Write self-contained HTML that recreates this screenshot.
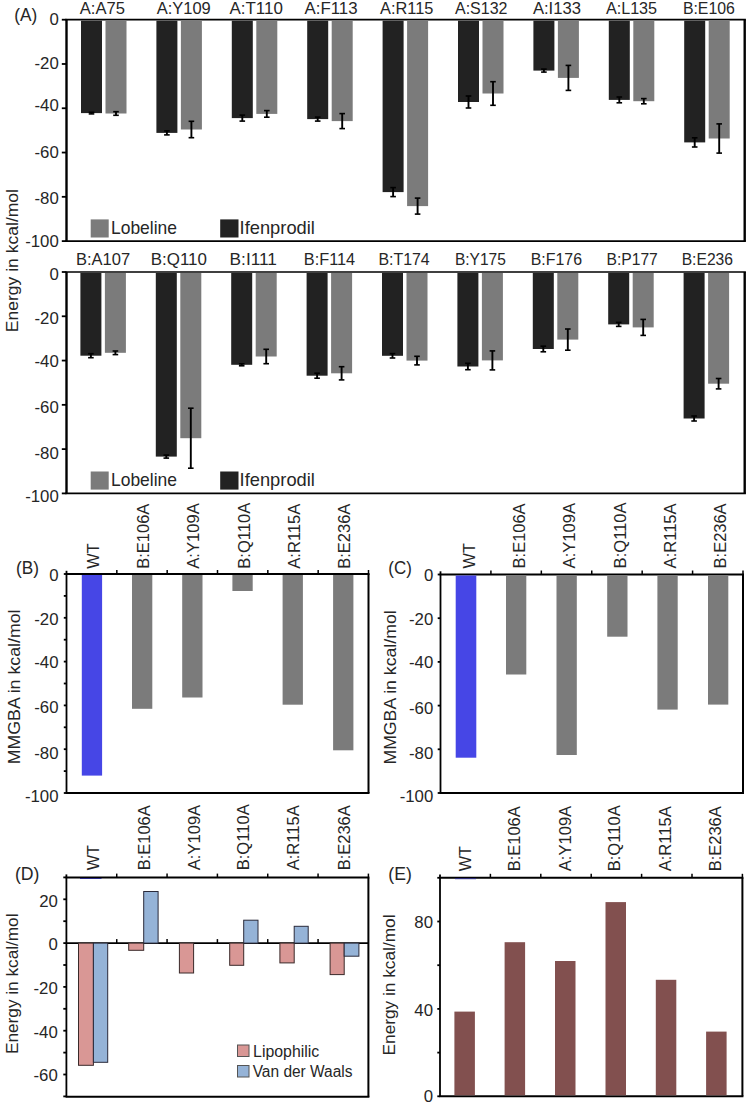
<!DOCTYPE html>
<html><head><meta charset="utf-8"><style>
html,body{margin:0;padding:0;background:#fff;}
body{width:749px;height:1104px;overflow:hidden;}
svg{display:block;}
text{font-family:"Liberation Sans",sans-serif;fill:#262626;}
</style></head><body>
<svg width="749" height="1104" viewBox="0 0 749 1104">
<rect x="0" y="0" width="749" height="1104" fill="#fff"/>
<line x1="65.30" y1="19.70" x2="745.90" y2="19.70" stroke="#000" stroke-width="1.7"/>
<line x1="65.30" y1="241.10" x2="745.90" y2="241.10" stroke="#000" stroke-width="1.7"/>
<line x1="66.50" y1="19.70" x2="66.50" y2="241.10" stroke="#000" stroke-width="2.4"/>
<line x1="744.70" y1="19.70" x2="744.70" y2="241.10" stroke="#000" stroke-width="2.4"/>
<line x1="61.80" y1="19.70" x2="66.50" y2="19.70" stroke="#000" stroke-width="1.8"/>
<text x="58.80" y="25.00" font-size="16.8" text-anchor="end">0</text>
<line x1="61.80" y1="63.98" x2="66.50" y2="63.98" stroke="#000" stroke-width="1.8"/>
<text x="58.80" y="69.00" font-size="16.8" text-anchor="end">-20</text>
<line x1="61.80" y1="108.26" x2="66.50" y2="108.26" stroke="#000" stroke-width="1.8"/>
<text x="58.80" y="111.20" font-size="16.8" text-anchor="end">-40</text>
<line x1="61.80" y1="152.54" x2="66.50" y2="152.54" stroke="#000" stroke-width="1.8"/>
<text x="58.80" y="157.90" font-size="16.8" text-anchor="end">-60</text>
<line x1="61.80" y1="196.82" x2="66.50" y2="196.82" stroke="#000" stroke-width="1.8"/>
<text x="58.80" y="203.90" font-size="16.8" text-anchor="end">-80</text>
<line x1="61.80" y1="241.10" x2="66.50" y2="241.10" stroke="#000" stroke-width="1.8"/>
<text x="58.80" y="247.10" font-size="16.8" text-anchor="end">-100</text>
<text x="79.80" y="13.60" font-size="16.5" text-anchor="start" textLength="45.20" lengthAdjust="spacingAndGlyphs">A:A75</text>
<text x="156.70" y="13.60" font-size="16.5" text-anchor="start" textLength="54.10" lengthAdjust="spacingAndGlyphs">A:Y109</text>
<text x="229.50" y="13.60" font-size="16.5" text-anchor="start" textLength="53.40" lengthAdjust="spacingAndGlyphs">A:T110</text>
<text x="304.60" y="13.60" font-size="16.5" text-anchor="start" textLength="53.00" lengthAdjust="spacingAndGlyphs">A:F113</text>
<text x="380.00" y="13.60" font-size="16.5" text-anchor="start" textLength="53.40" lengthAdjust="spacingAndGlyphs">A:R115</text>
<text x="455.00" y="13.60" font-size="16.5" text-anchor="start" textLength="52.50" lengthAdjust="spacingAndGlyphs">A:S132</text>
<text x="532.90" y="13.60" font-size="16.5" text-anchor="start" textLength="48.10" lengthAdjust="spacingAndGlyphs">A:I133</text>
<text x="605.90" y="13.60" font-size="16.5" text-anchor="start" textLength="51.20" lengthAdjust="spacingAndGlyphs">A:L135</text>
<text x="682.90" y="13.60" font-size="16.5" text-anchor="start" textLength="52.00" lengthAdjust="spacingAndGlyphs">B:E106</text>
<rect x="81.00" y="20.70" width="21.00" height="92.40" fill="#222222"/>
<rect x="105.50" y="20.70" width="21.00" height="92.80" fill="#7b7b7b"/>
<line x1="91.50" y1="112.30" x2="91.50" y2="113.90" stroke="#000" stroke-width="1.9"/>
<line x1="88.70" y1="112.30" x2="94.30" y2="112.30" stroke="#000" stroke-width="1.6"/>
<line x1="88.70" y1="113.90" x2="94.30" y2="113.90" stroke="#000" stroke-width="1.6"/>
<line x1="116.00" y1="111.70" x2="116.00" y2="115.30" stroke="#000" stroke-width="1.9"/>
<line x1="113.20" y1="111.70" x2="118.80" y2="111.70" stroke="#000" stroke-width="1.6"/>
<line x1="113.20" y1="115.30" x2="118.80" y2="115.30" stroke="#000" stroke-width="1.6"/>
<rect x="156.40" y="20.70" width="21.00" height="112.20" fill="#222222"/>
<rect x="180.90" y="20.70" width="21.00" height="108.80" fill="#7b7b7b"/>
<line x1="166.90" y1="130.90" x2="166.90" y2="134.90" stroke="#000" stroke-width="1.9"/>
<line x1="164.10" y1="130.90" x2="169.70" y2="130.90" stroke="#000" stroke-width="1.6"/>
<line x1="164.10" y1="134.90" x2="169.70" y2="134.90" stroke="#000" stroke-width="1.6"/>
<line x1="191.40" y1="121.30" x2="191.40" y2="137.70" stroke="#000" stroke-width="1.9"/>
<line x1="188.60" y1="121.30" x2="194.20" y2="121.30" stroke="#000" stroke-width="1.6"/>
<line x1="188.60" y1="137.70" x2="194.20" y2="137.70" stroke="#000" stroke-width="1.6"/>
<rect x="231.80" y="20.70" width="21.00" height="97.40" fill="#222222"/>
<rect x="256.30" y="20.70" width="21.00" height="93.20" fill="#7b7b7b"/>
<line x1="242.30" y1="115.10" x2="242.30" y2="121.10" stroke="#000" stroke-width="1.9"/>
<line x1="239.50" y1="115.10" x2="245.10" y2="115.10" stroke="#000" stroke-width="1.6"/>
<line x1="239.50" y1="121.10" x2="245.10" y2="121.10" stroke="#000" stroke-width="1.6"/>
<line x1="266.80" y1="110.60" x2="266.80" y2="117.20" stroke="#000" stroke-width="1.9"/>
<line x1="264.00" y1="110.60" x2="269.60" y2="110.60" stroke="#000" stroke-width="1.6"/>
<line x1="264.00" y1="117.20" x2="269.60" y2="117.20" stroke="#000" stroke-width="1.6"/>
<rect x="307.20" y="20.70" width="21.00" height="98.40" fill="#222222"/>
<rect x="331.70" y="20.70" width="21.00" height="100.40" fill="#7b7b7b"/>
<line x1="317.70" y1="117.10" x2="317.70" y2="121.10" stroke="#000" stroke-width="1.9"/>
<line x1="314.90" y1="117.10" x2="320.50" y2="117.10" stroke="#000" stroke-width="1.6"/>
<line x1="314.90" y1="121.10" x2="320.50" y2="121.10" stroke="#000" stroke-width="1.6"/>
<line x1="342.20" y1="113.60" x2="342.20" y2="128.60" stroke="#000" stroke-width="1.9"/>
<line x1="339.40" y1="113.60" x2="345.00" y2="113.60" stroke="#000" stroke-width="1.6"/>
<line x1="339.40" y1="128.60" x2="345.00" y2="128.60" stroke="#000" stroke-width="1.6"/>
<rect x="382.60" y="20.70" width="21.00" height="171.40" fill="#222222"/>
<rect x="407.10" y="20.70" width="21.00" height="185.40" fill="#7b7b7b"/>
<line x1="393.10" y1="187.60" x2="393.10" y2="196.60" stroke="#000" stroke-width="1.9"/>
<line x1="390.30" y1="187.60" x2="395.90" y2="187.60" stroke="#000" stroke-width="1.6"/>
<line x1="390.30" y1="196.60" x2="395.90" y2="196.60" stroke="#000" stroke-width="1.6"/>
<line x1="417.60" y1="198.10" x2="417.60" y2="214.10" stroke="#000" stroke-width="1.9"/>
<line x1="414.80" y1="198.10" x2="420.40" y2="198.10" stroke="#000" stroke-width="1.6"/>
<line x1="414.80" y1="214.10" x2="420.40" y2="214.10" stroke="#000" stroke-width="1.6"/>
<rect x="458.00" y="20.70" width="21.00" height="81.30" fill="#222222"/>
<rect x="482.50" y="20.70" width="21.00" height="72.80" fill="#7b7b7b"/>
<line x1="468.50" y1="96.00" x2="468.50" y2="108.00" stroke="#000" stroke-width="1.9"/>
<line x1="465.70" y1="96.00" x2="471.30" y2="96.00" stroke="#000" stroke-width="1.6"/>
<line x1="465.70" y1="108.00" x2="471.30" y2="108.00" stroke="#000" stroke-width="1.6"/>
<line x1="493.00" y1="81.70" x2="493.00" y2="105.30" stroke="#000" stroke-width="1.9"/>
<line x1="490.20" y1="81.70" x2="495.80" y2="81.70" stroke="#000" stroke-width="1.6"/>
<line x1="490.20" y1="105.30" x2="495.80" y2="105.30" stroke="#000" stroke-width="1.6"/>
<rect x="533.40" y="20.70" width="21.00" height="49.90" fill="#222222"/>
<rect x="557.90" y="20.70" width="21.00" height="57.20" fill="#7b7b7b"/>
<line x1="543.90" y1="69.10" x2="543.90" y2="72.10" stroke="#000" stroke-width="1.9"/>
<line x1="541.10" y1="69.10" x2="546.70" y2="69.10" stroke="#000" stroke-width="1.6"/>
<line x1="541.10" y1="72.10" x2="546.70" y2="72.10" stroke="#000" stroke-width="1.6"/>
<line x1="568.40" y1="65.40" x2="568.40" y2="90.40" stroke="#000" stroke-width="1.9"/>
<line x1="565.60" y1="65.40" x2="571.20" y2="65.40" stroke="#000" stroke-width="1.6"/>
<line x1="565.60" y1="90.40" x2="571.20" y2="90.40" stroke="#000" stroke-width="1.6"/>
<rect x="608.80" y="20.70" width="21.00" height="79.20" fill="#222222"/>
<rect x="633.30" y="20.70" width="21.00" height="80.50" fill="#7b7b7b"/>
<line x1="619.30" y1="97.00" x2="619.30" y2="102.80" stroke="#000" stroke-width="1.9"/>
<line x1="616.50" y1="97.00" x2="622.10" y2="97.00" stroke="#000" stroke-width="1.6"/>
<line x1="616.50" y1="102.80" x2="622.10" y2="102.80" stroke="#000" stroke-width="1.6"/>
<line x1="643.80" y1="98.60" x2="643.80" y2="103.80" stroke="#000" stroke-width="1.9"/>
<line x1="641.00" y1="98.60" x2="646.60" y2="98.60" stroke="#000" stroke-width="1.6"/>
<line x1="641.00" y1="103.80" x2="646.60" y2="103.80" stroke="#000" stroke-width="1.6"/>
<rect x="684.20" y="20.70" width="21.00" height="121.70" fill="#222222"/>
<rect x="708.70" y="20.70" width="21.00" height="117.80" fill="#7b7b7b"/>
<line x1="694.70" y1="137.80" x2="694.70" y2="147.00" stroke="#000" stroke-width="1.9"/>
<line x1="691.90" y1="137.80" x2="697.50" y2="137.80" stroke="#000" stroke-width="1.6"/>
<line x1="691.90" y1="147.00" x2="697.50" y2="147.00" stroke="#000" stroke-width="1.6"/>
<line x1="719.20" y1="123.90" x2="719.20" y2="153.10" stroke="#000" stroke-width="1.9"/>
<line x1="716.40" y1="123.90" x2="722.00" y2="123.90" stroke="#000" stroke-width="1.6"/>
<line x1="716.40" y1="153.10" x2="722.00" y2="153.10" stroke="#000" stroke-width="1.6"/>
<rect x="90.70" y="219.40" width="18.00" height="18.10" fill="#7b7b7b"/>
<text x="111.00" y="233.90" font-size="17.8" text-anchor="start" textLength="66.00" lengthAdjust="spacingAndGlyphs">Lobeline</text>
<rect x="220.20" y="219.40" width="18.30" height="18.10" fill="#222222"/>
<text x="239.60" y="233.90" font-size="17.8" text-anchor="start" textLength="75.30" lengthAdjust="spacingAndGlyphs">Ifenprodil</text>
<line x1="65.30" y1="272.00" x2="745.90" y2="272.00" stroke="#000" stroke-width="1.7"/>
<line x1="65.30" y1="493.40" x2="745.90" y2="493.40" stroke="#000" stroke-width="1.7"/>
<line x1="66.50" y1="272.00" x2="66.50" y2="493.40" stroke="#000" stroke-width="2.4"/>
<line x1="744.70" y1="272.00" x2="744.70" y2="493.40" stroke="#000" stroke-width="2.4"/>
<line x1="61.80" y1="272.00" x2="66.50" y2="272.00" stroke="#000" stroke-width="1.8"/>
<text x="58.80" y="280.10" font-size="16.8" text-anchor="end">0</text>
<line x1="61.80" y1="316.28" x2="66.50" y2="316.28" stroke="#000" stroke-width="1.8"/>
<text x="58.80" y="324.30" font-size="16.8" text-anchor="end">-20</text>
<line x1="61.80" y1="360.56" x2="66.50" y2="360.56" stroke="#000" stroke-width="1.8"/>
<text x="58.80" y="366.50" font-size="16.8" text-anchor="end">-40</text>
<line x1="61.80" y1="404.84" x2="66.50" y2="404.84" stroke="#000" stroke-width="1.8"/>
<text x="58.80" y="412.60" font-size="16.8" text-anchor="end">-60</text>
<line x1="61.80" y1="449.12" x2="66.50" y2="449.12" stroke="#000" stroke-width="1.8"/>
<text x="58.80" y="458.70" font-size="16.8" text-anchor="end">-80</text>
<line x1="61.80" y1="493.40" x2="66.50" y2="493.40" stroke="#000" stroke-width="1.8"/>
<text x="58.80" y="502.20" font-size="16.8" text-anchor="end">-100</text>
<text x="76.00" y="265.00" font-size="16.5" text-anchor="start" textLength="54.10" lengthAdjust="spacingAndGlyphs">B:A107</text>
<text x="150.80" y="265.00" font-size="16.5" text-anchor="start" textLength="56.10" lengthAdjust="spacingAndGlyphs">B:Q110</text>
<text x="229.60" y="265.00" font-size="16.5" text-anchor="start" textLength="47.40" lengthAdjust="spacingAndGlyphs">B:I111</text>
<text x="303.80" y="265.00" font-size="16.5" text-anchor="start" textLength="51.30" lengthAdjust="spacingAndGlyphs">B:F114</text>
<text x="378.40" y="265.00" font-size="16.5" text-anchor="start" textLength="51.30" lengthAdjust="spacingAndGlyphs">B:T174</text>
<text x="454.90" y="265.00" font-size="16.5" text-anchor="start" textLength="50.90" lengthAdjust="spacingAndGlyphs">B:Y175</text>
<text x="530.70" y="265.00" font-size="16.5" text-anchor="start" textLength="51.30" lengthAdjust="spacingAndGlyphs">B:F176</text>
<text x="606.50" y="265.00" font-size="16.5" text-anchor="start" textLength="51.30" lengthAdjust="spacingAndGlyphs">B:P177</text>
<text x="681.70" y="265.00" font-size="16.5" text-anchor="start" textLength="51.30" lengthAdjust="spacingAndGlyphs">B:E236</text>
<rect x="80.40" y="273.00" width="21.00" height="82.70" fill="#222222"/>
<rect x="104.90" y="273.00" width="21.00" height="79.80" fill="#7b7b7b"/>
<line x1="90.90" y1="353.70" x2="90.90" y2="357.70" stroke="#000" stroke-width="1.9"/>
<line x1="88.10" y1="353.70" x2="93.70" y2="353.70" stroke="#000" stroke-width="1.6"/>
<line x1="88.10" y1="357.70" x2="93.70" y2="357.70" stroke="#000" stroke-width="1.6"/>
<line x1="115.40" y1="351.00" x2="115.40" y2="354.60" stroke="#000" stroke-width="1.9"/>
<line x1="112.60" y1="351.00" x2="118.20" y2="351.00" stroke="#000" stroke-width="1.6"/>
<line x1="112.60" y1="354.60" x2="118.20" y2="354.60" stroke="#000" stroke-width="1.6"/>
<rect x="155.80" y="273.00" width="21.00" height="183.60" fill="#222222"/>
<rect x="180.30" y="273.00" width="21.00" height="165.20" fill="#7b7b7b"/>
<line x1="166.30" y1="455.10" x2="166.30" y2="458.10" stroke="#000" stroke-width="1.9"/>
<line x1="163.50" y1="455.10" x2="169.10" y2="455.10" stroke="#000" stroke-width="1.6"/>
<line x1="163.50" y1="458.10" x2="169.10" y2="458.10" stroke="#000" stroke-width="1.6"/>
<line x1="190.80" y1="408.20" x2="190.80" y2="468.20" stroke="#000" stroke-width="1.9"/>
<line x1="188.00" y1="408.20" x2="193.60" y2="408.20" stroke="#000" stroke-width="1.6"/>
<line x1="188.00" y1="468.20" x2="193.60" y2="468.20" stroke="#000" stroke-width="1.6"/>
<rect x="231.20" y="273.00" width="21.00" height="91.80" fill="#222222"/>
<rect x="255.70" y="273.00" width="21.00" height="83.50" fill="#7b7b7b"/>
<line x1="241.70" y1="363.80" x2="241.70" y2="365.80" stroke="#000" stroke-width="1.9"/>
<line x1="238.90" y1="363.80" x2="244.50" y2="363.80" stroke="#000" stroke-width="1.6"/>
<line x1="238.90" y1="365.80" x2="244.50" y2="365.80" stroke="#000" stroke-width="1.6"/>
<line x1="266.20" y1="349.30" x2="266.20" y2="363.70" stroke="#000" stroke-width="1.9"/>
<line x1="263.40" y1="349.30" x2="269.00" y2="349.30" stroke="#000" stroke-width="1.6"/>
<line x1="263.40" y1="363.70" x2="269.00" y2="363.70" stroke="#000" stroke-width="1.6"/>
<rect x="306.60" y="273.00" width="21.00" height="102.70" fill="#222222"/>
<rect x="331.10" y="273.00" width="21.00" height="100.30" fill="#7b7b7b"/>
<line x1="317.10" y1="373.20" x2="317.10" y2="378.20" stroke="#000" stroke-width="1.9"/>
<line x1="314.30" y1="373.20" x2="319.90" y2="373.20" stroke="#000" stroke-width="1.6"/>
<line x1="314.30" y1="378.20" x2="319.90" y2="378.20" stroke="#000" stroke-width="1.6"/>
<line x1="341.60" y1="366.70" x2="341.60" y2="379.90" stroke="#000" stroke-width="1.9"/>
<line x1="338.80" y1="366.70" x2="344.40" y2="366.70" stroke="#000" stroke-width="1.6"/>
<line x1="338.80" y1="379.90" x2="344.40" y2="379.90" stroke="#000" stroke-width="1.6"/>
<rect x="382.00" y="273.00" width="21.00" height="82.80" fill="#222222"/>
<rect x="406.50" y="273.00" width="21.00" height="87.60" fill="#7b7b7b"/>
<line x1="392.50" y1="353.60" x2="392.50" y2="358.00" stroke="#000" stroke-width="1.9"/>
<line x1="389.70" y1="353.60" x2="395.30" y2="353.60" stroke="#000" stroke-width="1.6"/>
<line x1="389.70" y1="358.00" x2="395.30" y2="358.00" stroke="#000" stroke-width="1.6"/>
<line x1="417.00" y1="356.30" x2="417.00" y2="364.90" stroke="#000" stroke-width="1.9"/>
<line x1="414.20" y1="356.30" x2="419.80" y2="356.30" stroke="#000" stroke-width="1.6"/>
<line x1="414.20" y1="364.90" x2="419.80" y2="364.90" stroke="#000" stroke-width="1.6"/>
<rect x="457.40" y="273.00" width="21.00" height="93.50" fill="#222222"/>
<rect x="481.90" y="273.00" width="21.00" height="87.40" fill="#7b7b7b"/>
<line x1="467.90" y1="363.30" x2="467.90" y2="369.70" stroke="#000" stroke-width="1.9"/>
<line x1="465.10" y1="363.30" x2="470.70" y2="363.30" stroke="#000" stroke-width="1.6"/>
<line x1="465.10" y1="369.70" x2="470.70" y2="369.70" stroke="#000" stroke-width="1.6"/>
<line x1="492.40" y1="350.90" x2="492.40" y2="369.90" stroke="#000" stroke-width="1.9"/>
<line x1="489.60" y1="350.90" x2="495.20" y2="350.90" stroke="#000" stroke-width="1.6"/>
<line x1="489.60" y1="369.90" x2="495.20" y2="369.90" stroke="#000" stroke-width="1.6"/>
<rect x="532.80" y="273.00" width="21.00" height="76.00" fill="#222222"/>
<rect x="557.30" y="273.00" width="21.00" height="66.60" fill="#7b7b7b"/>
<line x1="543.30" y1="346.20" x2="543.30" y2="351.80" stroke="#000" stroke-width="1.9"/>
<line x1="540.50" y1="346.20" x2="546.10" y2="346.20" stroke="#000" stroke-width="1.6"/>
<line x1="540.50" y1="351.80" x2="546.10" y2="351.80" stroke="#000" stroke-width="1.6"/>
<line x1="567.80" y1="329.00" x2="567.80" y2="350.20" stroke="#000" stroke-width="1.9"/>
<line x1="565.00" y1="329.00" x2="570.60" y2="329.00" stroke="#000" stroke-width="1.6"/>
<line x1="565.00" y1="350.20" x2="570.60" y2="350.20" stroke="#000" stroke-width="1.6"/>
<rect x="608.20" y="273.00" width="21.00" height="51.40" fill="#222222"/>
<rect x="632.70" y="273.00" width="21.00" height="54.40" fill="#7b7b7b"/>
<line x1="618.70" y1="322.40" x2="618.70" y2="326.40" stroke="#000" stroke-width="1.9"/>
<line x1="615.90" y1="322.40" x2="621.50" y2="322.40" stroke="#000" stroke-width="1.6"/>
<line x1="615.90" y1="326.40" x2="621.50" y2="326.40" stroke="#000" stroke-width="1.6"/>
<line x1="643.20" y1="319.40" x2="643.20" y2="335.40" stroke="#000" stroke-width="1.9"/>
<line x1="640.40" y1="319.40" x2="646.00" y2="319.40" stroke="#000" stroke-width="1.6"/>
<line x1="640.40" y1="335.40" x2="646.00" y2="335.40" stroke="#000" stroke-width="1.6"/>
<rect x="683.60" y="273.00" width="21.00" height="145.50" fill="#222222"/>
<rect x="708.10" y="273.00" width="21.00" height="110.70" fill="#7b7b7b"/>
<line x1="694.10" y1="416.00" x2="694.10" y2="421.00" stroke="#000" stroke-width="1.9"/>
<line x1="691.30" y1="416.00" x2="696.90" y2="416.00" stroke="#000" stroke-width="1.6"/>
<line x1="691.30" y1="421.00" x2="696.90" y2="421.00" stroke="#000" stroke-width="1.6"/>
<line x1="718.60" y1="378.50" x2="718.60" y2="388.90" stroke="#000" stroke-width="1.9"/>
<line x1="715.80" y1="378.50" x2="721.40" y2="378.50" stroke="#000" stroke-width="1.6"/>
<line x1="715.80" y1="388.90" x2="721.40" y2="388.90" stroke="#000" stroke-width="1.6"/>
<rect x="90.70" y="471.50" width="18.00" height="18.10" fill="#7b7b7b"/>
<text x="111.00" y="486.00" font-size="17.8" text-anchor="start" textLength="66.00" lengthAdjust="spacingAndGlyphs">Lobeline</text>
<rect x="220.20" y="471.50" width="18.30" height="18.10" fill="#222222"/>
<text x="239.60" y="486.00" font-size="17.8" text-anchor="start" textLength="75.30" lengthAdjust="spacingAndGlyphs">Ifenprodil</text>
<text transform="translate(18.10,332.20) rotate(-90)" x="0" y="0" font-size="16.5" textLength="143.20" lengthAdjust="spacingAndGlyphs">Energy in kcal/mol</text>
<text x="14.20" y="21.00" font-size="18" text-anchor="start" textLength="23.00" lengthAdjust="spacingAndGlyphs">(A)</text>
<line x1="65.70" y1="574.00" x2="369.50" y2="574.00" stroke="#000" stroke-width="2.0"/>
<line x1="65.70" y1="793.00" x2="369.50" y2="793.00" stroke="#000" stroke-width="2.0"/>
<line x1="66.50" y1="570.80" x2="66.50" y2="793.00" stroke="#000" stroke-width="1.8"/>
<line x1="368.50" y1="574.00" x2="368.50" y2="793.00" stroke="#000" stroke-width="2.0"/>
<line x1="63.80" y1="574.00" x2="66.50" y2="574.00" stroke="#000" stroke-width="1.8"/>
<text x="58.50" y="581.20" font-size="16.8" text-anchor="end">0</text>
<line x1="63.80" y1="595.90" x2="66.50" y2="595.90" stroke="#000" stroke-width="1.8"/>
<line x1="63.80" y1="617.80" x2="66.50" y2="617.80" stroke="#000" stroke-width="1.8"/>
<text x="58.50" y="624.90" font-size="16.8" text-anchor="end">-20</text>
<line x1="63.80" y1="639.70" x2="66.50" y2="639.70" stroke="#000" stroke-width="1.8"/>
<line x1="63.80" y1="661.60" x2="66.50" y2="661.60" stroke="#000" stroke-width="1.8"/>
<text x="58.50" y="667.90" font-size="16.8" text-anchor="end">-40</text>
<line x1="63.80" y1="683.50" x2="66.50" y2="683.50" stroke="#000" stroke-width="1.8"/>
<line x1="63.80" y1="705.40" x2="66.50" y2="705.40" stroke="#000" stroke-width="1.8"/>
<text x="58.50" y="713.30" font-size="16.8" text-anchor="end">-60</text>
<line x1="63.80" y1="727.30" x2="66.50" y2="727.30" stroke="#000" stroke-width="1.8"/>
<line x1="63.80" y1="749.20" x2="66.50" y2="749.20" stroke="#000" stroke-width="1.8"/>
<text x="58.50" y="759.20" font-size="16.8" text-anchor="end">-80</text>
<line x1="63.80" y1="771.10" x2="66.50" y2="771.10" stroke="#000" stroke-width="1.8"/>
<line x1="63.80" y1="793.00" x2="66.50" y2="793.00" stroke="#000" stroke-width="1.8"/>
<text x="58.50" y="801.70" font-size="16.8" text-anchor="end">-100</text>
<line x1="116.83" y1="570.00" x2="116.83" y2="574.00" stroke="#000" stroke-width="1.5"/>
<line x1="167.17" y1="570.00" x2="167.17" y2="574.00" stroke="#000" stroke-width="1.5"/>
<line x1="217.50" y1="570.00" x2="217.50" y2="574.00" stroke="#000" stroke-width="1.5"/>
<line x1="267.83" y1="570.00" x2="267.83" y2="574.00" stroke="#000" stroke-width="1.5"/>
<line x1="318.17" y1="570.00" x2="318.17" y2="574.00" stroke="#000" stroke-width="1.5"/>
<line x1="368.50" y1="570.00" x2="368.50" y2="574.00" stroke="#000" stroke-width="1.5"/>
<rect x="81.80" y="575.00" width="20.30" height="200.60" fill="#4646e6"/>
<rect x="132.00" y="575.00" width="20.30" height="133.80" fill="#7b7b7b"/>
<rect x="182.20" y="575.00" width="20.30" height="122.50" fill="#7b7b7b"/>
<rect x="232.40" y="575.00" width="20.30" height="16.00" fill="#7b7b7b"/>
<rect x="282.60" y="575.00" width="20.30" height="129.70" fill="#7b7b7b"/>
<rect x="333.10" y="575.00" width="20.30" height="175.30" fill="#7b7b7b"/>
<text transform="translate(98.80,568.70) rotate(-90)" x="0" y="0" font-size="16.8" textLength="25.30" lengthAdjust="spacingAndGlyphs">WT</text>
<text transform="translate(149.00,568.70) rotate(-90)" x="0" y="0" font-size="16.8" textLength="65.00" lengthAdjust="spacingAndGlyphs">B:E106A</text>
<text transform="translate(199.30,568.70) rotate(-90)" x="0" y="0" font-size="16.8" textLength="65.50" lengthAdjust="spacingAndGlyphs">A:Y109A</text>
<text transform="translate(249.50,568.70) rotate(-90)" x="0" y="0" font-size="16.8" textLength="66.00" lengthAdjust="spacingAndGlyphs">B:Q110A</text>
<text transform="translate(299.70,568.70) rotate(-90)" x="0" y="0" font-size="16.8" textLength="65.00" lengthAdjust="spacingAndGlyphs">A:R115A</text>
<text transform="translate(350.00,568.70) rotate(-90)" x="0" y="0" font-size="16.8" textLength="65.00" lengthAdjust="spacingAndGlyphs">B:E236A</text>
<text transform="translate(19.80,764.30) rotate(-90)" x="0" y="0" font-size="16.5" textLength="154.80" lengthAdjust="spacingAndGlyphs">MMGBA in kcal/mol</text>
<text x="16.00" y="573.50" font-size="18" text-anchor="start" textLength="23.00" lengthAdjust="spacingAndGlyphs">(B)</text>
<line x1="439.70" y1="574.50" x2="744.00" y2="574.50" stroke="#000" stroke-width="2.0"/>
<line x1="439.70" y1="793.00" x2="744.00" y2="793.00" stroke="#000" stroke-width="2.0"/>
<line x1="440.50" y1="571.30" x2="440.50" y2="793.00" stroke="#000" stroke-width="1.8"/>
<line x1="743.00" y1="574.50" x2="743.00" y2="793.00" stroke="#000" stroke-width="2.0"/>
<line x1="437.70" y1="574.50" x2="440.50" y2="574.50" stroke="#000" stroke-width="1.8"/>
<text x="433.30" y="581.40" font-size="16.8" text-anchor="end">0</text>
<line x1="437.70" y1="618.20" x2="440.50" y2="618.20" stroke="#000" stroke-width="1.8"/>
<text x="433.30" y="624.90" font-size="16.8" text-anchor="end">-20</text>
<line x1="437.70" y1="661.90" x2="440.50" y2="661.90" stroke="#000" stroke-width="1.8"/>
<text x="433.30" y="667.70" font-size="16.8" text-anchor="end">-40</text>
<line x1="437.70" y1="705.60" x2="440.50" y2="705.60" stroke="#000" stroke-width="1.8"/>
<text x="433.30" y="713.50" font-size="16.8" text-anchor="end">-60</text>
<line x1="437.70" y1="749.30" x2="440.50" y2="749.30" stroke="#000" stroke-width="1.8"/>
<text x="433.30" y="758.90" font-size="16.8" text-anchor="end">-80</text>
<line x1="437.70" y1="793.00" x2="440.50" y2="793.00" stroke="#000" stroke-width="1.8"/>
<text x="433.30" y="802.20" font-size="16.8" text-anchor="end">-100</text>
<line x1="490.92" y1="570.50" x2="490.92" y2="574.50" stroke="#000" stroke-width="1.5"/>
<line x1="541.33" y1="570.50" x2="541.33" y2="574.50" stroke="#000" stroke-width="1.5"/>
<line x1="591.75" y1="570.50" x2="591.75" y2="574.50" stroke="#000" stroke-width="1.5"/>
<line x1="642.17" y1="570.50" x2="642.17" y2="574.50" stroke="#000" stroke-width="1.5"/>
<line x1="692.58" y1="570.50" x2="692.58" y2="574.50" stroke="#000" stroke-width="1.5"/>
<line x1="743.00" y1="570.50" x2="743.00" y2="574.50" stroke="#000" stroke-width="1.5"/>
<rect x="455.70" y="575.50" width="20.60" height="182.20" fill="#4646e6"/>
<rect x="506.00" y="575.50" width="20.30" height="99.00" fill="#7b7b7b"/>
<rect x="556.50" y="575.50" width="20.30" height="179.50" fill="#7b7b7b"/>
<rect x="607.20" y="575.50" width="20.30" height="61.20" fill="#7b7b7b"/>
<rect x="657.40" y="575.50" width="20.30" height="134.10" fill="#7b7b7b"/>
<rect x="708.00" y="575.50" width="20.30" height="129.10" fill="#7b7b7b"/>
<text transform="translate(475.00,568.40) rotate(-90)" x="0" y="0" font-size="16.8" textLength="25.30" lengthAdjust="spacingAndGlyphs">WT</text>
<text transform="translate(524.60,568.40) rotate(-90)" x="0" y="0" font-size="16.8" textLength="65.00" lengthAdjust="spacingAndGlyphs">B:E106A</text>
<text transform="translate(575.30,568.40) rotate(-90)" x="0" y="0" font-size="16.8" textLength="65.50" lengthAdjust="spacingAndGlyphs">A:Y109A</text>
<text transform="translate(625.60,568.40) rotate(-90)" x="0" y="0" font-size="16.8" textLength="66.00" lengthAdjust="spacingAndGlyphs">B:Q110A</text>
<text transform="translate(676.00,568.40) rotate(-90)" x="0" y="0" font-size="16.8" textLength="65.00" lengthAdjust="spacingAndGlyphs">A:R115A</text>
<text transform="translate(725.50,568.40) rotate(-90)" x="0" y="0" font-size="16.8" textLength="65.00" lengthAdjust="spacingAndGlyphs">B:E236A</text>
<text transform="translate(396.00,764.60) rotate(-90)" x="0" y="0" font-size="16.5" textLength="154.30" lengthAdjust="spacingAndGlyphs">MMGBA in kcal/mol</text>
<text x="388.30" y="573.50" font-size="18" text-anchor="start" textLength="23.50" lengthAdjust="spacingAndGlyphs">(C)</text>
<line x1="65.60" y1="877.60" x2="369.40" y2="877.60" stroke="#000" stroke-width="2.0"/>
<line x1="65.60" y1="1096.70" x2="369.40" y2="1096.70" stroke="#000" stroke-width="2.0"/>
<line x1="66.40" y1="874.40" x2="66.40" y2="1096.70" stroke="#000" stroke-width="1.8"/>
<line x1="368.40" y1="877.60" x2="368.40" y2="1096.70" stroke="#000" stroke-width="2.0"/>
<line x1="66.40" y1="943.10" x2="368.40" y2="943.10" stroke="#000" stroke-width="1.8"/>
<line x1="63.30" y1="877.40" x2="66.40" y2="877.40" stroke="#000" stroke-width="1.8"/>
<line x1="63.30" y1="899.30" x2="66.40" y2="899.30" stroke="#000" stroke-width="1.8"/>
<text x="57.80" y="906.70" font-size="16.8" text-anchor="end">20</text>
<line x1="63.30" y1="921.20" x2="66.40" y2="921.20" stroke="#000" stroke-width="1.8"/>
<line x1="63.30" y1="943.10" x2="66.40" y2="943.10" stroke="#000" stroke-width="1.8"/>
<text x="57.80" y="949.80" font-size="16.8" text-anchor="end">0</text>
<line x1="63.30" y1="965.00" x2="66.40" y2="965.00" stroke="#000" stroke-width="1.8"/>
<line x1="63.30" y1="986.90" x2="66.40" y2="986.90" stroke="#000" stroke-width="1.8"/>
<text x="57.80" y="994.20" font-size="16.8" text-anchor="end">-20</text>
<line x1="63.30" y1="1008.80" x2="66.40" y2="1008.80" stroke="#000" stroke-width="1.8"/>
<line x1="63.30" y1="1030.70" x2="66.40" y2="1030.70" stroke="#000" stroke-width="1.8"/>
<text x="57.80" y="1037.80" font-size="16.8" text-anchor="end">-40</text>
<line x1="63.30" y1="1052.60" x2="66.40" y2="1052.60" stroke="#000" stroke-width="1.8"/>
<line x1="63.30" y1="1074.50" x2="66.40" y2="1074.50" stroke="#000" stroke-width="1.8"/>
<text x="57.80" y="1081.20" font-size="16.8" text-anchor="end">-60</text>
<line x1="63.30" y1="1096.40" x2="66.40" y2="1096.40" stroke="#000" stroke-width="1.8"/>
<line x1="116.73" y1="873.60" x2="116.73" y2="877.60" stroke="#000" stroke-width="1.5"/>
<line x1="116.73" y1="939.10" x2="116.73" y2="943.10" stroke="#000" stroke-width="1.5"/>
<line x1="167.07" y1="873.60" x2="167.07" y2="877.60" stroke="#000" stroke-width="1.5"/>
<line x1="167.07" y1="939.10" x2="167.07" y2="943.10" stroke="#000" stroke-width="1.5"/>
<line x1="217.40" y1="873.60" x2="217.40" y2="877.60" stroke="#000" stroke-width="1.5"/>
<line x1="217.40" y1="939.10" x2="217.40" y2="943.10" stroke="#000" stroke-width="1.5"/>
<line x1="267.73" y1="873.60" x2="267.73" y2="877.60" stroke="#000" stroke-width="1.5"/>
<line x1="267.73" y1="939.10" x2="267.73" y2="943.10" stroke="#000" stroke-width="1.5"/>
<line x1="318.07" y1="873.60" x2="318.07" y2="877.60" stroke="#000" stroke-width="1.5"/>
<line x1="318.07" y1="939.10" x2="318.07" y2="943.10" stroke="#000" stroke-width="1.5"/>
<line x1="368.40" y1="873.60" x2="368.40" y2="877.60" stroke="#000" stroke-width="1.5"/>
<line x1="80.00" y1="878.50" x2="101.50" y2="878.50" stroke="#2a2a88" stroke-width="1.0"/>
<rect x="78.50" y="943.10" width="14.90" height="122.20" fill="#d99795" stroke="#3a2a2a" stroke-width="1"/>
<rect x="128.70" y="943.10" width="15.00" height="7.20" fill="#d99795" stroke="#3a2a2a" stroke-width="1"/>
<rect x="179.40" y="943.10" width="14.20" height="29.90" fill="#d99795" stroke="#3a2a2a" stroke-width="1"/>
<rect x="229.70" y="943.10" width="14.00" height="22.20" fill="#d99795" stroke="#3a2a2a" stroke-width="1"/>
<rect x="279.90" y="943.10" width="14.30" height="19.80" fill="#d99795" stroke="#3a2a2a" stroke-width="1"/>
<rect x="330.10" y="943.10" width="14.10" height="31.50" fill="#d99795" stroke="#3a2a2a" stroke-width="1"/>
<rect x="93.40" y="943.10" width="14.30" height="119.20" fill="#95b3d7" stroke="#2a2a3a" stroke-width="1"/>
<rect x="143.70" y="891.50" width="14.40" height="51.60" fill="#95b3d7" stroke="#2a2a3a" stroke-width="1"/>
<rect x="243.70" y="920.20" width="14.30" height="22.90" fill="#95b3d7" stroke="#2a2a3a" stroke-width="1"/>
<rect x="294.20" y="926.30" width="14.00" height="16.80" fill="#95b3d7" stroke="#2a2a3a" stroke-width="1"/>
<rect x="344.20" y="943.10" width="14.70" height="13.10" fill="#95b3d7" stroke="#2a2a3a" stroke-width="1"/>
<text transform="translate(99.30,870.30) rotate(-90)" x="0" y="0" font-size="16.8" textLength="25.30" lengthAdjust="spacingAndGlyphs">WT</text>
<text transform="translate(149.70,870.30) rotate(-90)" x="0" y="0" font-size="16.8" textLength="65.00" lengthAdjust="spacingAndGlyphs">B:E106A</text>
<text transform="translate(200.00,870.30) rotate(-90)" x="0" y="0" font-size="16.8" textLength="65.50" lengthAdjust="spacingAndGlyphs">A:Y109A</text>
<text transform="translate(249.30,870.30) rotate(-90)" x="0" y="0" font-size="16.8" textLength="66.00" lengthAdjust="spacingAndGlyphs">B:Q110A</text>
<text transform="translate(299.30,870.30) rotate(-90)" x="0" y="0" font-size="16.8" textLength="65.00" lengthAdjust="spacingAndGlyphs">A:R115A</text>
<text transform="translate(349.70,870.30) rotate(-90)" x="0" y="0" font-size="16.8" textLength="65.00" lengthAdjust="spacingAndGlyphs">B:E236A</text>
<text transform="translate(18.30,1054.00) rotate(-90)" x="0" y="0" font-size="16" textLength="140.50" lengthAdjust="spacingAndGlyphs">Energy in kcal/mol</text>
<text x="15.00" y="880.00" font-size="18" text-anchor="start" textLength="24.50" lengthAdjust="spacingAndGlyphs">(D)</text>
<rect x="237.50" y="1045.00" width="11.50" height="11.50" fill="#d99795" stroke="#555" stroke-width="1"/>
<text x="253.10" y="1056.50" font-size="16" text-anchor="start" textLength="66.20" lengthAdjust="spacingAndGlyphs">Lipophilic</text>
<rect x="237.50" y="1065.50" width="11.50" height="11.50" fill="#95b3d7" stroke="#555" stroke-width="1"/>
<text x="252.70" y="1077.00" font-size="16" text-anchor="start" textLength="99.80" lengthAdjust="spacingAndGlyphs">Van der Waals</text>
<line x1="439.20" y1="877.80" x2="743.40" y2="877.80" stroke="#000" stroke-width="2.0"/>
<line x1="439.20" y1="1096.30" x2="743.40" y2="1096.30" stroke="#000" stroke-width="2.0"/>
<line x1="440.00" y1="874.60" x2="440.00" y2="1096.30" stroke="#000" stroke-width="1.8"/>
<line x1="742.40" y1="877.80" x2="742.40" y2="1096.30" stroke="#000" stroke-width="2.0"/>
<line x1="437.30" y1="1096.30" x2="440.00" y2="1096.30" stroke="#000" stroke-width="1.8"/>
<text x="433.00" y="1101.90" font-size="16.8" text-anchor="end">0</text>
<line x1="437.30" y1="1052.60" x2="440.00" y2="1052.60" stroke="#000" stroke-width="1.8"/>
<line x1="437.30" y1="1008.90" x2="440.00" y2="1008.90" stroke="#000" stroke-width="1.8"/>
<text x="433.00" y="1015.75" font-size="16.8" text-anchor="end">40</text>
<line x1="437.30" y1="965.20" x2="440.00" y2="965.20" stroke="#000" stroke-width="1.8"/>
<line x1="437.30" y1="921.50" x2="440.00" y2="921.50" stroke="#000" stroke-width="1.8"/>
<text x="433.00" y="927.50" font-size="16.8" text-anchor="end">80</text>
<line x1="437.30" y1="877.80" x2="440.00" y2="877.80" stroke="#000" stroke-width="1.8"/>
<line x1="490.40" y1="873.80" x2="490.40" y2="877.80" stroke="#000" stroke-width="1.5"/>
<line x1="540.80" y1="873.80" x2="540.80" y2="877.80" stroke="#000" stroke-width="1.5"/>
<line x1="591.20" y1="873.80" x2="591.20" y2="877.80" stroke="#000" stroke-width="1.5"/>
<line x1="641.60" y1="873.80" x2="641.60" y2="877.80" stroke="#000" stroke-width="1.5"/>
<line x1="692.00" y1="873.80" x2="692.00" y2="877.80" stroke="#000" stroke-width="1.5"/>
<line x1="742.40" y1="873.80" x2="742.40" y2="877.80" stroke="#000" stroke-width="1.5"/>
<line x1="455.00" y1="878.70" x2="476.00" y2="878.70" stroke="#2a2a88" stroke-width="1.0"/>
<rect x="454.40" y="1011.60" width="20.50" height="83.70" fill="#82504f"/>
<rect x="504.60" y="942.20" width="20.50" height="153.10" fill="#82504f"/>
<rect x="555.00" y="961.00" width="20.50" height="134.30" fill="#82504f"/>
<rect x="605.50" y="902.10" width="20.50" height="193.20" fill="#82504f"/>
<rect x="655.80" y="979.80" width="20.50" height="115.50" fill="#82504f"/>
<rect x="706.10" y="1031.60" width="20.50" height="63.70" fill="#82504f"/>
<text transform="translate(471.00,871.30) rotate(-90)" x="0" y="0" font-size="16.8" textLength="25.30" lengthAdjust="spacingAndGlyphs">WT</text>
<text transform="translate(520.40,871.30) rotate(-90)" x="0" y="0" font-size="16.8" textLength="65.00" lengthAdjust="spacingAndGlyphs">B:E106A</text>
<text transform="translate(571.20,871.30) rotate(-90)" x="0" y="0" font-size="16.8" textLength="65.50" lengthAdjust="spacingAndGlyphs">A:Y109A</text>
<text transform="translate(620.30,871.30) rotate(-90)" x="0" y="0" font-size="16.8" textLength="66.00" lengthAdjust="spacingAndGlyphs">B:Q110A</text>
<text transform="translate(671.00,871.30) rotate(-90)" x="0" y="0" font-size="16.8" textLength="65.00" lengthAdjust="spacingAndGlyphs">A:R115A</text>
<text transform="translate(720.50,871.30) rotate(-90)" x="0" y="0" font-size="16.8" textLength="65.00" lengthAdjust="spacingAndGlyphs">B:E236A</text>
<text transform="translate(394.70,1055.40) rotate(-90)" x="0" y="0" font-size="16" textLength="140.90" lengthAdjust="spacingAndGlyphs">Energy in kcal/mol</text>
<text x="388.30" y="880.00" font-size="18" text-anchor="start" textLength="23.50" lengthAdjust="spacingAndGlyphs">(E)</text>
</svg></body></html>
